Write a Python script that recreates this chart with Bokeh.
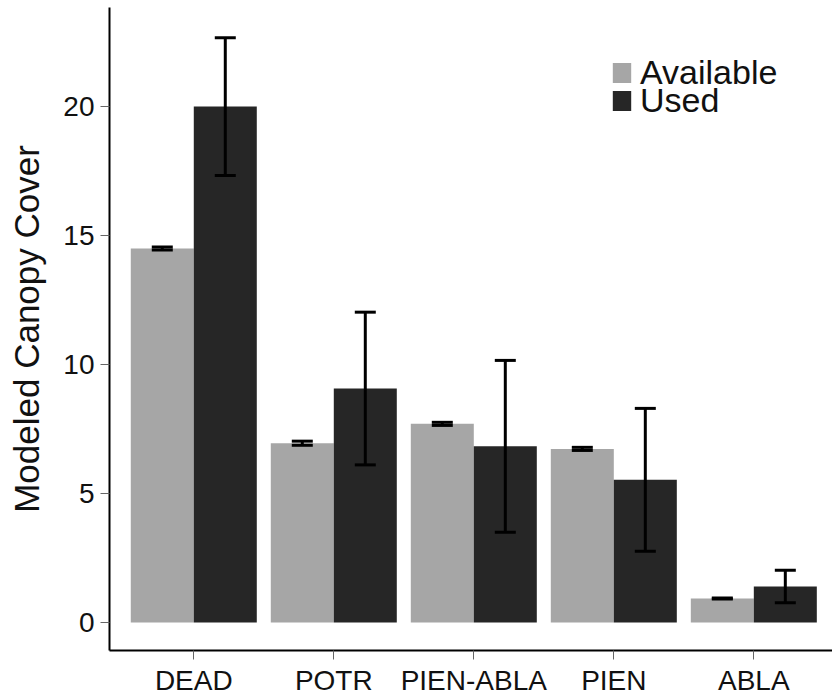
from bokeh.plotting import figure
from bokeh.models import (ColumnDataSource, FixedTicker, Whisker, TeeHead,
                          Legend, LegendItem, Range1d)
from bokeh.embed import file_html
from bokeh.resources import INLINE

categories = ["DEAD", "POTR", "PIEN-ABLA", "PIEN", "ABLA"]
series = ["Available", "Used"]
available_mean = [14.50, 6.95, 7.70, 6.73, 0.93]
available_se = [0.06, 0.08, 0.06, 0.06, 0.02]
used_mean = [20.00, 9.07, 6.83, 5.53, 1.40]
used_se = [2.67, 2.96, 3.33, 2.77, 0.63]
y_ticks = [0, 5, 10, 15, 20]

colors = {"Available": "#A6A6A6", "Used": "#262626"}
FONT = "Liberation Sans"

idx = [i + 1 for i in range(len(categories))]
dodge = 0.225
bar_w = 0.45

p = figure(width=832, height=698, output_backend="svg", toolbar_location=None,
           x_range=Range1d(0.398, 5.562), y_range=Range1d(-1.085, 23.84),
           min_border_left=109, min_border_right=0, min_border_top=7,
           min_border_bottom=48)
p.outline_line_color = None
p.xgrid.visible = False
p.ygrid.visible = False
p.background_fill_color = "white"
p.border_fill_color = "white"

renderers = {}
for name, means, ses, off in [("Available", available_mean, available_se, -dodge),
                               ("Used", used_mean, used_se, dodge)]:
    xs = [i + off for i in idx]
    src = ColumnDataSource(dict(x=xs, top=means,
                                upper=[m + s for m, s in zip(means, ses)],
                                lower=[m - s for m, s in zip(means, ses)]))
    r = p.vbar(x="x", top="top", bottom=0, width=bar_w, source=src,
               fill_color=colors[name], line_color=None)
    renderers[name] = r
    w = Whisker(base="x", upper="upper", lower="lower", source=src,
                line_color="black", line_width=3, level="overlay",
                upper_head=TeeHead(size=21, line_width=3, line_color="black"),
                lower_head=TeeHead(size=21, line_width=3, line_color="black"))
    p.add_layout(w)

# axes
for ax in (p.xaxis[0], p.yaxis[0]):
    ax.axis_line_color = "black"
    ax.axis_line_width = 2
    ax.major_tick_line_color = "#666666"
    ax.major_tick_line_width = 1
    ax.major_tick_out = 9
    ax.major_tick_in = 0
    ax.minor_tick_line_color = None
    ax.major_label_text_font = FONT
    ax.major_label_text_font_size = "28px"
    ax.major_label_text_color = "#111111"

p.xaxis.ticker = FixedTicker(ticks=idx)
p.xaxis.major_label_overrides = {i: c for i, c in zip(idx, categories)}
p.xaxis.major_label_standoff = 5

p.yaxis.ticker = FixedTicker(ticks=y_ticks)
p.yaxis.major_label_standoff = 6
p.yaxis.axis_label = "Modeled Canopy Cover"
p.yaxis.axis_label_text_font = FONT
p.yaxis.axis_label_text_font_size = "35px"
p.yaxis.axis_label_text_font_style = "normal"
p.yaxis.axis_label_text_color = "#111111"
p.yaxis.axis_label_standoff = 14

# legend: one entry per Legend for tight rows
for k, name in enumerate(series):
    leg = Legend(items=[LegendItem(label=name, renderers=[renderers[name]])],
                 location=(501, 558 - 28 * k), orientation="vertical",
                 glyph_width=23, glyph_height=25, label_standoff=7,
                 padding=0, margin=0, spacing=0,
                 label_text_font=FONT, label_text_font_size="34px",
                 label_text_color="#111111", label_height=25,
                 border_line_color=None, background_fill_alpha=0)
    p.add_layout(leg)

open("out.html", "w").write(file_html(p, INLINE))
